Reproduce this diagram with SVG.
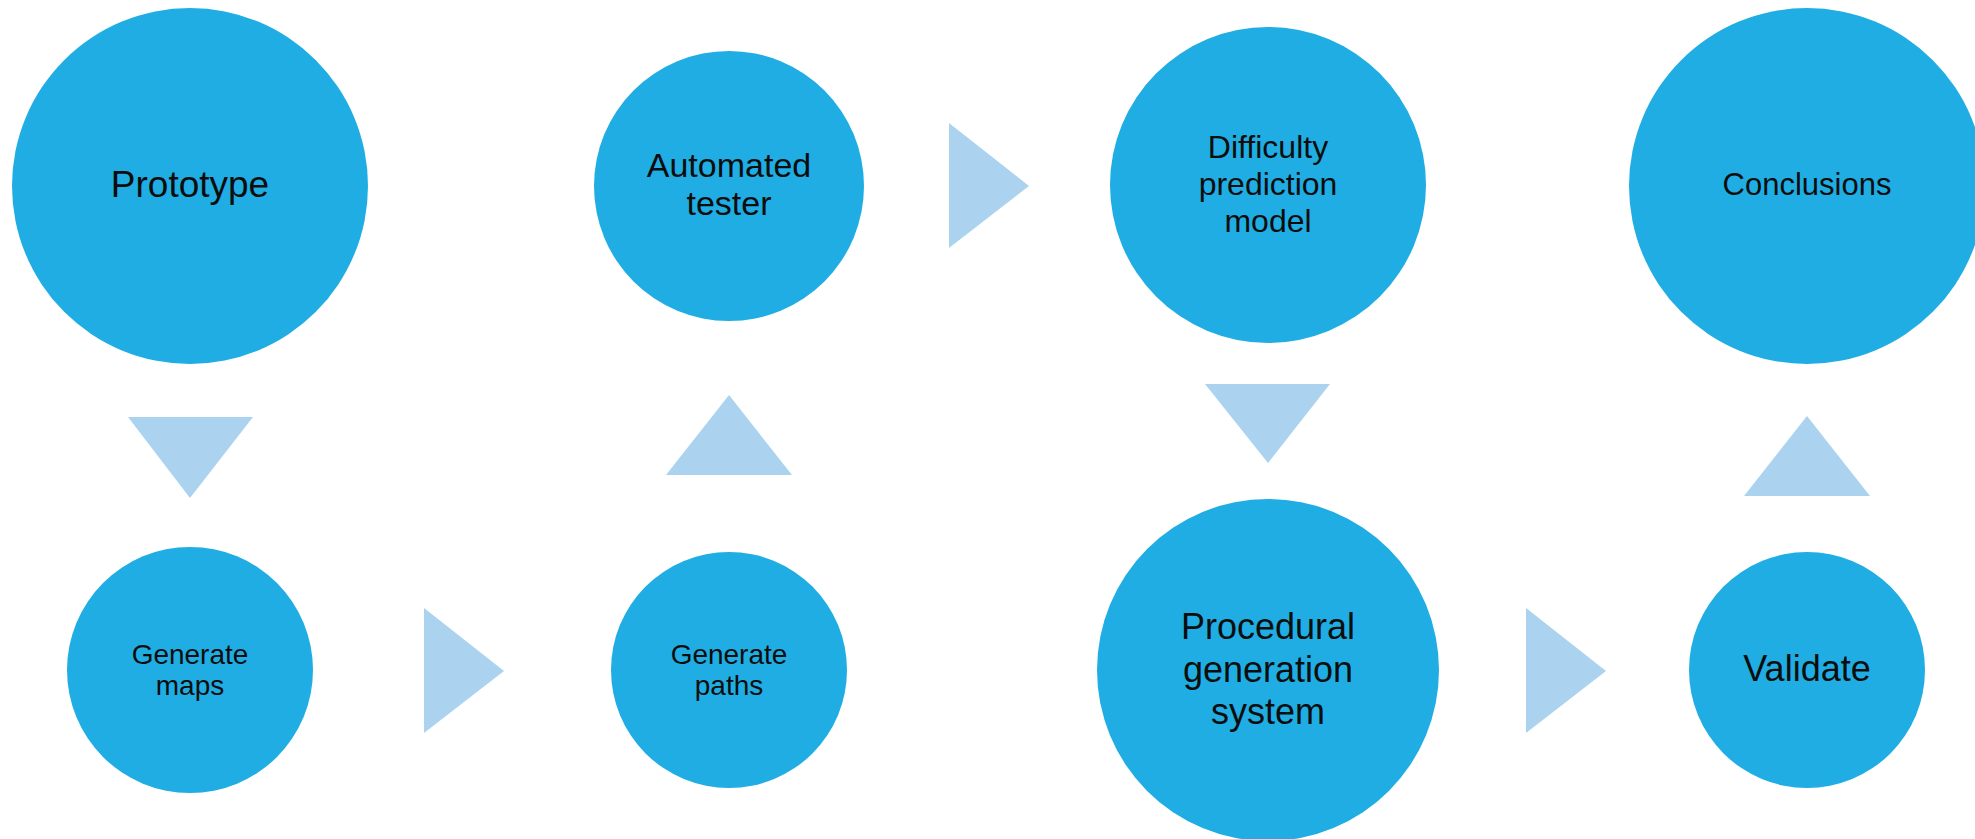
<svg xmlns="http://www.w3.org/2000/svg" width="1975" height="839" viewBox="0 0 1975 839">
  <style>
    .node { fill: #1FADE3; }
    .arrow { fill: #ABD3EF; }
    .label { font-family: "Liberation Sans", Arial, sans-serif; fill: #0d0d0d; text-anchor: middle; }
  </style>
  <rect width="1975" height="839" fill="#ffffff"/>

  <!-- flow arrows (triangles) -->
  <g id="connectors">
    <polygon class="arrow" points="128,417 253,417 190,498"/>
    <polygon class="arrow" points="424,608 424,733 504,671"/>
    <polygon class="arrow" points="666,475 792,475 729,395"/>
    <polygon class="arrow" points="949,123 949,248 1029,186"/>
    <polygon class="arrow" points="1205,384 1330,384 1268,463"/>
    <polygon class="arrow" points="1526,608 1526,733 1606,671"/>
    <polygon class="arrow" points="1744,496 1870,496 1807,416"/>
  </g>

  <g id="prototype">
    <circle class="node" cx="190" cy="186" r="178"/>
    <text class="label" x="190" y="197" font-size="37">Prototype</text>
  </g>

  <g id="generate-maps">
    <circle class="node" cx="190" cy="670" r="123"/>
    <text class="label" x="190" y="664" font-size="28">Generate</text>
    <text class="label" x="190" y="695" font-size="28">maps</text>
  </g>

  <g id="generate-paths">
    <circle class="node" cx="729" cy="670" r="118"/>
    <text class="label" x="729" y="664" font-size="28">Generate</text>
    <text class="label" x="729" y="695" font-size="28">paths</text>
  </g>

  <g id="automated-tester">
    <circle class="node" cx="729" cy="186" r="135"/>
    <text class="label" x="729" y="177" font-size="34">Automated</text>
    <text class="label" x="729" y="215" font-size="34">tester</text>
  </g>

  <g id="difficulty-model">
    <circle class="node" cx="1268" cy="185" r="158"/>
    <text class="label" x="1268" y="158" font-size="32">Difficulty</text>
    <text class="label" x="1268" y="195" font-size="32">prediction</text>
    <text class="label" x="1268" y="232" font-size="32">model</text>
  </g>

  <g id="procedural-generation">
    <circle class="node" cx="1268" cy="670" r="171"/>
    <text class="label" x="1268" y="639" font-size="36">Procedural</text>
    <text class="label" x="1268" y="682" font-size="36">generation</text>
    <text class="label" x="1268" y="724" font-size="36">system</text>
  </g>

  <g id="validate">
    <circle class="node" cx="1807" cy="670" r="118"/>
    <text class="label" x="1807" y="681" font-size="36">Validate</text>
  </g>

  <g id="conclusions">
    <circle class="node" cx="1807" cy="186" r="178"/>
    <text class="label" x="1807" y="195" font-size="31">Conclusions</text>
  </g>
</svg>
